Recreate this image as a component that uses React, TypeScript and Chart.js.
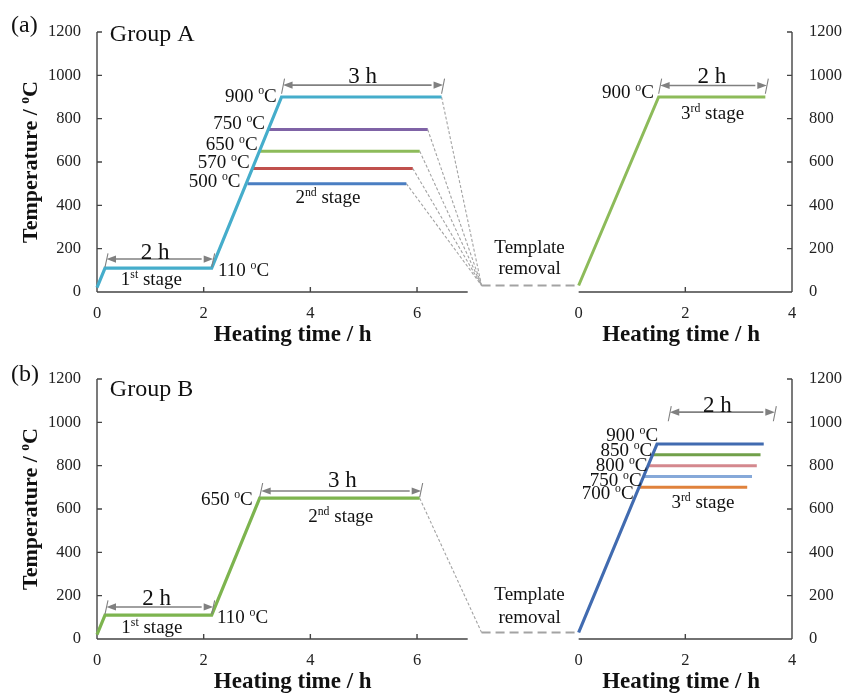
import React, { useEffect, useRef } from "react";
import { Chart, registerables } from "chart.js";

Chart.register(...registerables);

const SERIF = "'Liberation Serif', 'Times New Roman', serif";

// ---------- axes ----------
const yTickValues = [0, 200, 400, 600, 800, 1000, 1200];
const leftXTicks = [0, 2, 4, 6];
const rightXTicks = [0, 2, 4];
const leftXEnd = 6.95; // end of left time axis (h)
const rightXEnd = 4;
const panelGap = 2.08; // blank span between the two time axes (h)
const OFFSET = leftXEnd + panelGap; // right panel origin on the shared scale

// ---------- Group A ----------
const aStage12Time = [0, 0.15, 2.15, 3.46, 6.46];
const aStage12Temp = [20, 110, 110, 900, 900];
const aStage2Temps = [750, 650, 570, 500];
const aStage2Start = [3.21, 3.05, 2.92, 2.82];
const aStage2End = [6.2, 6.05, 5.92, 5.8];
const aStage2Colors = ["#7F63A6", "#8DBB5A", "#C0504D", "#4A7EC2"];
const aMainColor = "#45ADCB";
const aStage3Time = [0, 1.5, 3.5];
const aStage3Temp = [30, 900, 900];
const aStage3Color = "#8DBB5A";

// ---------- Group B ----------
const bStage12Time = [0, 0.15, 2.15, 3.05, 6.05];
const bStage12Temp = [20, 110, 110, 650, 650];
const bStage12Color = "#7DB44F";
const bStage3Time = [0, 1.47, 3.47];
const bStage3Temp = [30, 900, 900];
const bMainColor = "#416BB0";
const bStage3Temps = [850, 800, 750, 700];
const bStage3Start = [1.39, 1.3, 1.22, 1.13];
const bStage3End = [3.41, 3.34, 3.25, 3.16];
const bStage3Colors = ["#71A04A", "#D4888E", "#86A9D9", "#E0823C"];

// template removal point (left-panel hours, °C)
const removalTime = 7.21;
const removalTemp = 30;

type Pt = { x: number; y: number };
type Label = {
  text: string;
  panel: "L" | "R" | "P";
  x: number;
  y: number;
  align: "left" | "right" | "center";
  size?: number;
  bold?: boolean;
};
type Arrow = { panel: "L" | "R"; x1: number; x2: number; y: number; lo: number; hi: number };
type Spec = { datasets: any[]; labels: Label[]; arrows: Arrow[] };

const pts = (xs: number[], ys: number[], off = 0): Pt[] => xs.map((x, i) => ({ x: x + off, y: ys[i] }));

const ln = (data: Pt[], color: string, width = 3, dash: number[] = []) => ({
  data,
  borderColor: color,
  backgroundColor: color,
  borderWidth: width,
  borderDash: dash,
  pointRadius: 0,
  pointHoverRadius: 0,
  fill: false,
  tension: 0,
  clip: false,
  borderCapStyle: "butt",
  borderJoinStyle: "miter",
});

const DASH_COLOR = "#A3A3A3";

function buildA(): Spec {
  const ds: any[] = [];
  ds.push(ln(pts(aStage12Time, aStage12Temp), aMainColor, 3.2));
  aStage2Temps.forEach((t, i) =>
    ds.push(ln([{ x: aStage2Start[i], y: t }, { x: aStage2End[i], y: t }], aStage2Colors[i], 3))
  );
  ds.push(ln(pts(aStage3Time, aStage3Temp, OFFSET), aStage3Color, 3));
  ds.push(ln([{ x: removalTime, y: removalTemp }, { x: OFFSET, y: removalTemp }], DASH_COLOR, 2, [9, 5]));
  const ends: Pt[] = [{ x: aStage12Time[4], y: aStage12Temp[4] }].concat(
    aStage2Temps.map((t, i) => ({ x: aStage2End[i], y: t }))
  );
  ends.forEach((p) => ds.push(ln([p, { x: removalTime, y: removalTemp }], DASH_COLOR, 1.1, [3, 2])));

  const labels: Label[] = [
    { text: "(a)", panel: "P", x: 11, y: 24, align: "left", size: 24 },
    { text: "Group A", panel: "L", x: 0.24, y: 1195, align: "left", size: 24 },
    { text: "900 {o}C", panel: "L", x: 3.37, y: 908, align: "right" },
    { text: "750 {o}C", panel: "L", x: 3.15, y: 780, align: "right" },
    { text: "650 {o}C", panel: "L", x: 3.01, y: 683, align: "right" },
    { text: "570 {o}C", panel: "L", x: 2.86, y: 600, align: "right" },
    { text: "500 {o}C", panel: "L", x: 2.69, y: 512, align: "right" },
    { text: "110 {o}C", panel: "L", x: 2.27, y: 101, align: "left" },
    { text: "1{st} stage", panel: "L", x: 1.02, y: 60, align: "center" },
    { text: "2 h", panel: "L", x: 1.09, y: 189, align: "center", size: 23 },
    { text: "2{nd} stage", panel: "L", x: 4.33, y: 439, align: "center" },
    { text: "3 h", panel: "L", x: 4.98, y: 998, align: "center", size: 23 },
    { text: "Template", panel: "L", x: 8.11, y: 208, align: "center" },
    { text: "removal", panel: "L", x: 8.11, y: 111, align: "center" },
    { text: "900 {o}C", panel: "R", x: 1.41, y: 925, align: "right" },
    { text: "3{rd} stage", panel: "R", x: 2.51, y: 828, align: "center" },
    { text: "2 h", panel: "R", x: 2.5, y: 1000, align: "center", size: 23 },
  ];
  const arrows: Arrow[] = [
    { panel: "L", x1: 0.15, x2: 2.15, y: 152, lo: 115, hi: 178 },
    { panel: "L", x1: 3.46, x2: 6.46, y: 955, lo: 915, hi: 985 },
    { panel: "R", x1: 1.5, x2: 3.5, y: 953, lo: 915, hi: 985 },
  ];
  return { datasets: ds, labels, arrows };
}

function buildB(): Spec {
  const ds: any[] = [];
  ds.push(ln(pts(bStage12Time, bStage12Temp), bStage12Color, 3.2));
  ds.push(ln(pts(bStage3Time, bStage3Temp, OFFSET), bMainColor, 3.2));
  bStage3Temps.forEach((t, i) =>
    ds.push(
      ln([{ x: bStage3Start[i] + OFFSET, y: t }, { x: bStage3End[i] + OFFSET, y: t }], bStage3Colors[i], 3)
    )
  );
  ds.push(ln([{ x: removalTime, y: removalTemp }, { x: OFFSET, y: removalTemp }], DASH_COLOR, 2, [9, 5]));
  ds.push(
    ln([{ x: bStage12Time[4], y: bStage12Temp[4] }, { x: removalTime, y: removalTemp }], DASH_COLOR, 1.1, [3, 2])
  );

  const labels: Label[] = [
    { text: "(b)", panel: "P", x: 11, y: 26, align: "left", size: 24 },
    { text: "Group B", panel: "L", x: 0.24, y: 1160, align: "left", size: 24 },
    { text: "650 {o}C", panel: "L", x: 2.92, y: 646, align: "right" },
    { text: "110 {o}C", panel: "L", x: 2.25, y: 101, align: "left" },
    { text: "1{st} stage", panel: "L", x: 1.03, y: 55, align: "center" },
    { text: "2 h", panel: "L", x: 1.12, y: 194, align: "center", size: 23 },
    { text: "2{nd} stage", panel: "L", x: 4.57, y: 568, align: "center" },
    { text: "3 h", panel: "L", x: 4.6, y: 738, align: "center", size: 23 },
    { text: "Template", panel: "L", x: 8.11, y: 208, align: "center" },
    { text: "removal", panel: "L", x: 8.11, y: 101, align: "center" },
    { text: "900 {o}C", panel: "R", x: 1.49, y: 941, align: "right" },
    { text: "850 {o}C", panel: "R", x: 1.38, y: 872, align: "right" },
    { text: "800 {o}C", panel: "R", x: 1.29, y: 803, align: "right" },
    { text: "750 {o}C", panel: "R", x: 1.18, y: 734, align: "right" },
    { text: "700 {o}C", panel: "R", x: 1.03, y: 674, align: "right" },
    { text: "3{rd} stage", panel: "R", x: 2.33, y: 632, align: "center" },
    { text: "2 h", panel: "R", x: 2.6, y: 1085, align: "center", size: 23 },
  ];
  const arrows: Arrow[] = [
    { panel: "L", x1: 0.15, x2: 2.15, y: 148, lo: 115, hi: 178 },
    { panel: "L", x1: 3.05, x2: 6.05, y: 683, lo: 655, hi: 720 },
    { panel: "R", x1: 1.68, x2: 3.65, y: 1047, lo: 1005, hi: 1075 },
  ];
  return { datasets: ds, labels, arrows };
}

function drawRich(
  ctx: CanvasRenderingContext2D,
  s: string,
  x: number,
  y: number,
  align: "left" | "right" | "center",
  size: number,
  bold = false,
  color = "#111"
) {
  const segs: { t: string; sup: boolean; w: number }[] = [];
  const re = /\{([^}]*)\}|([^{]+)/g;
  let m: RegExpExecArray | null;
  while ((m = re.exec(s))) {
    segs.push(m[1] !== undefined ? { t: m[1], sup: true, w: 0 } : { t: m[2], sup: false, w: 0 });
  }
  const font = (sup: boolean) => `${bold ? "bold " : ""}${sup ? size * 0.62 : size}px ${SERIF}`;
  let w = 0;
  for (const sg of segs) {
    ctx.font = font(sg.sup);
    sg.w = ctx.measureText(sg.t).width;
    w += sg.w;
  }
  let cx = align === "left" ? x : align === "right" ? x - w : x - w / 2;
  const base = y + size * 0.33;
  ctx.textAlign = "left";
  ctx.textBaseline = "alphabetic";
  ctx.fillStyle = color;
  for (const sg of segs) {
    ctx.font = font(sg.sup);
    ctx.fillText(sg.t, cx, sg.sup ? base - size * 0.38 : base);
    cx += sg.w;
  }
}

const AXIS_COLOR = "#444";
const ARROW_COLOR = "#808080";

function makePlugin(spec: Spec) {
  return {
    id: "decor",
    beforeDatasetsDraw(chart: any) {
      const ctx: CanvasRenderingContext2D = chart.ctx;
      const xs = chart.scales.x;
      const ys = chart.scales.y;
      const y0 = ys.getPixelForValue(0);
      const yTop = ys.getPixelForValue(1200);
      ctx.save();
      ctx.strokeStyle = AXIS_COLOR;
      ctx.lineWidth = 1.4;
      ctx.setLineDash([]);
      const L = xs.getPixelForValue(0);
      const LE = xs.getPixelForValue(leftXEnd);
      const R0 = xs.getPixelForValue(OFFSET);
      const RE = xs.getPixelForValue(OFFSET + rightXEnd);
      ctx.beginPath();
      ctx.moveTo(L, yTop);
      ctx.lineTo(L, y0);
      ctx.moveTo(L, y0);
      ctx.lineTo(LE, y0);
      ctx.moveTo(R0, y0);
      ctx.lineTo(RE, y0);
      ctx.moveTo(RE, y0);
      ctx.lineTo(RE, yTop);
      for (const v of yTickValues) {
        const p = ys.getPixelForValue(v);
        ctx.moveTo(L, p);
        ctx.lineTo(L + 5, p);
        ctx.moveTo(RE, p);
        ctx.lineTo(RE - 5, p);
      }
      for (const v of leftXTicks) {
        if (v === 0) continue;
        const p = xs.getPixelForValue(v);
        ctx.moveTo(p, y0);
        ctx.lineTo(p, y0 - 5);
      }
      for (const v of rightXTicks) {
        if (v === 0 || v === rightXEnd) continue;
        const p = xs.getPixelForValue(v + OFFSET);
        ctx.moveTo(p, y0);
        ctx.lineTo(p, y0 - 5);
      }
      ctx.stroke();
      ctx.restore();
    },
    afterDatasetsDraw(chart: any) {
      const ctx: CanvasRenderingContext2D = chart.ctx;
      const xs = chart.scales.x;
      const ys = chart.scales.y;
      const area = chart.chartArea;
      const px = (panel: string, x: number) => xs.getPixelForValue(panel === "R" ? x + OFFSET : x);
      ctx.save();
      for (const a of spec.arrows) {
        const x1 = px(a.panel, a.x1);
        const x2 = px(a.panel, a.x2);
        const y = ys.getPixelForValue(a.y);
        const lo = ys.getPixelForValue(a.lo);
        const hi = ys.getPixelForValue(a.hi);
        ctx.strokeStyle = ARROW_COLOR;
        ctx.fillStyle = ARROW_COLOR;
        ctx.lineWidth = 1.1;
        ctx.beginPath();
        ctx.moveTo(x1, lo);
        ctx.lineTo(x1 + 3, hi);
        ctx.moveTo(x2, lo);
        ctx.lineTo(x2 + 3, hi);
        ctx.stroke();
        const ah = 10;
        const aw = 3.6;
        ctx.lineWidth = 1.6;
        ctx.beginPath();
        ctx.moveTo(x1 + ah, y);
        ctx.lineTo(x2 - ah, y);
        ctx.stroke();
        ctx.beginPath();
        ctx.moveTo(x1 + 1.5, y);
        ctx.lineTo(x1 + ah + 1, y - aw);
        ctx.lineTo(x1 + ah + 1, y + aw);
        ctx.closePath();
        ctx.fill();
        ctx.beginPath();
        ctx.moveTo(x2 + 1.5, y);
        ctx.lineTo(x2 - ah + 2, y - aw);
        ctx.lineTo(x2 - ah + 2, y + aw);
        ctx.closePath();
        ctx.fill();
      }
      for (const l of spec.labels) {
        const x = l.panel === "P" ? l.x : px(l.panel, l.x);
        const y = l.panel === "P" ? l.y : ys.getPixelForValue(l.y);
        drawRich(ctx, l.text, x, y, l.align, l.size ?? 19, !!l.bold, "#111");
      }
      const yMid = (area.top + area.bottom) / 2;
      ctx.save();
      ctx.translate(30, yMid);
      ctx.rotate(-Math.PI / 2);
      drawRich(ctx, "Temperature / {o}C", 0, 0, "center", 22, true, "#111");
      ctx.restore();
      drawRich(ctx, "Heating time / h", px("L", 3.67), area.bottom + 41, "center", 23, true, "#111");
      drawRich(ctx, "Heating time / h", px("R", 1.92), area.bottom + 41, "center", 23, true, "#111");
      ctx.restore();
    },
  };
}

function buildConfig(spec: Spec): any {
  const tickFont = { family: SERIF, size: 16.5 };
  const plain = (v: number) => String(Math.round(v));
  return {
    type: "line",
    data: { datasets: spec.datasets },
    plugins: [makePlugin(spec)],
    options: {
      animation: false,
      responsive: false,
      devicePixelRatio: 1,
      events: [],
      layout: { padding: { top: 32, left: 0, right: 0, bottom: 0 } },
      plugins: { legend: { display: false }, tooltip: { enabled: false } },
      scales: {
        x: {
          type: "linear",
          min: 0,
          max: OFFSET + rightXEnd,
          grid: { display: false, drawTicks: false },
          border: { display: false },
          afterBuildTicks: (axis: any) => {
            axis.ticks = leftXTicks
              .map((v) => ({ value: v }))
              .concat(rightXTicks.map((v) => ({ value: v + OFFSET })));
          },
          ticks: {
            autoSkip: false,
            maxRotation: 0,
            padding: 12,
            color: "#222",
            font: tickFont,
            callback: (v: number) => String(v >= OFFSET - 0.01 ? Math.round(v - OFFSET) : Math.round(v)),
          },
          afterFit: (axis: any) => {
            axis.height = 54;
          },
        },
        y: {
          type: "linear",
          position: "left",
          min: 0,
          max: 1200,
          grid: { display: false, drawTicks: false },
          border: { display: false },
          afterBuildTicks: (axis: any) => {
            axis.ticks = yTickValues.map((v) => ({ value: v }));
          },
          ticks: { padding: 16, color: "#222", font: tickFont, callback: plain },
          afterFit: (axis: any) => {
            axis.width = 97;
          },
        },
        y2: {
          type: "linear",
          position: "right",
          min: 0,
          max: 1200,
          grid: { display: false, drawTicks: false },
          border: { display: false },
          afterBuildTicks: (axis: any) => {
            axis.ticks = yTickValues.map((v) => ({ value: v }));
          },
          ticks: { padding: 17, color: "#222", font: tickFont, callback: plain },
          afterFit: (axis: any) => {
            axis.width = 53;
          },
        },
      },
    },
  };
}

function Panel({ build }: { build: () => Spec }) {
  const ref = useRef<HTMLCanvasElement | null>(null);
  useEffect(() => {
    if (!ref.current) return;
    const chart = new Chart(ref.current, buildConfig(build()));
    return () => chart.destroy();
  }, [build]);
  return <canvas ref={ref} width={845} height={346} style={{ display: "block", width: 845, height: 346 }} />;
}

export default function App() {
  return (
    <div
      style={{
        position: "fixed",
        left: 0,
        top: 0,
        width: 845,
        height: 693,
        background: "#fff",
        overflow: "hidden",
      }}
    >
      <div style={{ position: "absolute", left: 0, top: 0 }}>
        <Panel build={buildA} />
      </div>
      <div style={{ position: "absolute", left: 0, top: 347 }}>
        <Panel build={buildB} />
      </div>
    </div>
  );
}
